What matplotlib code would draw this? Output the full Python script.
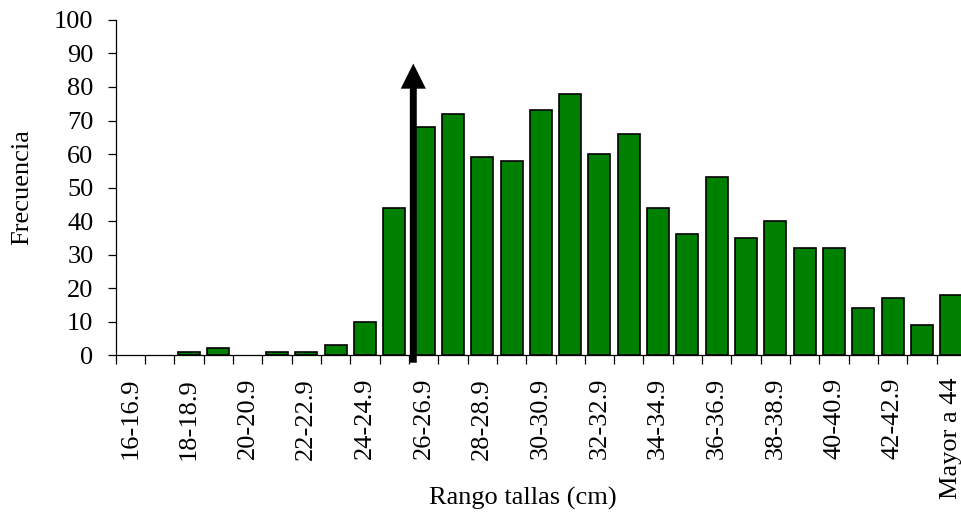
## Frequency histogram of size classes (Rango tallas) with an arrow marking the minimum size

import numpy as np
import matplotlib
matplotlib.use("Agg")
import matplotlib.pyplot as plt

plt.rcParams['font.family'] = ['Liberation Serif', 'DejaVu Serif']

# Size classes (cm) and counts per class
categories = ["16-16.9", "17-17.9", "18-18.9", "19-19.9", "20-20.9", "21-21.9",
              "22-22.9", "23-23.9", "24-24.9", "25-25.9", "26-26.9", "27-27.9",
              "28-28.9", "29-29.9", "30-30.9", "31-31.9", "32-32.9", "33-33.9",
              "34-34.9", "35-35.9", "36-36.9", "37-37.9", "38-38.9", "39-39.9",
              "40-40.9", "41-41.9", "42-42.9", "43-43.9", "Mayor a 44"]
frecuencia = [0, 0, 1, 2, 0, 1, 1, 3, 10, 44, 68, 72, 59, 58, 73, 78, 60, 66,
              44, 36, 53, 35, 40, 32, 32, 14, 17, 9, 18]
y_ticks = [0, 10, 20, 30, 40, 50, 60, 70, 80, 90, 100]

# Arrow marking the size limit (category position, top value)
arrow_pos = 9.65
arrow_top = 87

BAR_COLOR = "#008000"
FONT_SIZE = 19


def main():
    fig = plt.figure(figsize=(9.61, 5.14), dpi=100)
    # axes run slightly past the right edge, like the original capture
    ax = fig.add_axes([0.1204, 0.3093, 0.8848, 0.6518])

    x = np.arange(len(categories))
    # empty classes get no outline
    edge_w = [1.2 if v > 0 else 0 for v in frecuencia]
    ax.bar(x, frecuencia, width=0.75, color=BAR_COLOR, edgecolor="black",
           linewidth=edge_w, zorder=2)

    ax.set_xlim(-0.5, len(categories) - 0.5)
    ax.set_ylim(0, 100)

    # y axis
    ax.set_yticks(y_ticks)
    ax.tick_params(axis="y", direction="out", length=6, width=0.9,
                   pad=10, labelsize=FONT_SIZE)

    # x axis: labels on every other class, tick marks at class boundaries
    ax.set_xticks(x[::2])
    ax.set_xticklabels(categories[::2], rotation=90)
    ax.set_xticks(np.arange(len(categories) + 1) - 0.5, minor=True)
    ax.tick_params(axis="x", which="major", length=0, pad=16.5,
                   labelsize=FONT_SIZE)
    ax.tick_params(axis="x", which="minor", direction="out", length=6.5,
                   width=0.9)

    for side in ("top", "right"):
        ax.spines[side].set_visible(False)
    for side in ("left", "bottom"):
        ax.spines[side].set_linewidth(0.9)
        ax.spines[side].set_zorder(3)

    ax.set_ylabel("Frecuencia", fontsize=FONT_SIZE)
    ax.yaxis.set_label_coords(-0.097, 0.5)
    ax.set_xlabel("Rango tallas (cm)", fontsize=FONT_SIZE)
    ax.xaxis.set_label_coords(0.479, -0.395)

    ax.annotate("", xy=(arrow_pos, arrow_top), xytext=(arrow_pos, -2.3),
                arrowprops=dict(arrowstyle="-|>", lw=5, color="black",
                                mutation_scale=25, shrinkA=0, shrinkB=0,
                                joinstyle="miter", capstyle="butt"),
                annotation_clip=False, zorder=4)

    fig.savefig("out.png", dpi=100)


if __name__ == '__main__':
    main()
